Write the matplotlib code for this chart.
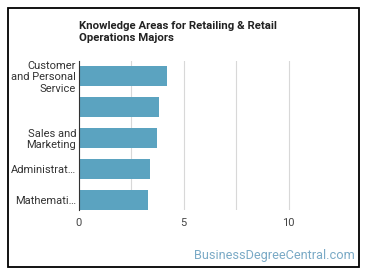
import matplotlib.pyplot as plt
from matplotlib.patches import Rectangle

# Data
categories = ["Customer\nand Personal\nService", "", "Sales and\nMarketing",
              "Administrat\u2026", "Mathemati\u2026"]
values = [4.2, 3.8, 3.7, 3.4, 3.3]
xticks = [0, 5, 10]

plt.rcParams['font.family'] = ['Roboto', 'DejaVu Sans']

fig = plt.figure(figsize=(3.7, 2.78), dpi=100)
W, H = 370, 278

# outer black frame
fig.patches.append(Rectangle((8 / W, 1 - 267 / H), 351 / W, 259 / H,
                             transform=fig.transFigure, fill=False,
                             edgecolor='black', linewidth=1.3))

ax = fig.add_axes([79 / W, 1 - 210 / H, 262 / W, 149 / H])
ypos = list(range(len(categories)))
ax.barh(ypos, values, height=0.63, color='#5ba3c0')
ax.set_ylim(len(categories) - 1 + 0.32, -0.48)
ax.set_xlim(0, 12.5)
ax.set_yticks(ypos)
ax.set_yticklabels(categories, fontsize=8, color='#333333', linespacing=1.15)
ax.set_xticks(xticks)
ax.set_xticklabels([str(t) for t in xticks], fontsize=8, color='#444444')
ax.set_xticks([2.5, 7.5], minor=True)
ax.grid(axis='x', which='both', color='#d8d8d8', linewidth=0.8)
ax.set_axisbelow(True)
for s in ['top', 'right', 'bottom']:
    ax.spines[s].set_visible(False)
ax.spines['left'].set_color('#333333')
ax.spines['left'].set_linewidth(0.8)
ax.tick_params(axis='both', which='both', length=0)
ax.tick_params(axis='y', pad=2)
ax.tick_params(axis='x', pad=6)

fig.text(79 / W, 1 - 21 / H, "Knowledge Areas for Retailing & Retail\nOperations Majors",
         fontsize=8.2, fontweight='bold', color='#222222', va='top', ha='left',
         linespacing=1.25)
fig.text(355 / W, 1 - 255 / H, "BusinessDegreeCentral.com", fontsize=9.2,
         color='#7aaac6', ha='right', va='center')

fig.savefig('out.png', dpi=100)
